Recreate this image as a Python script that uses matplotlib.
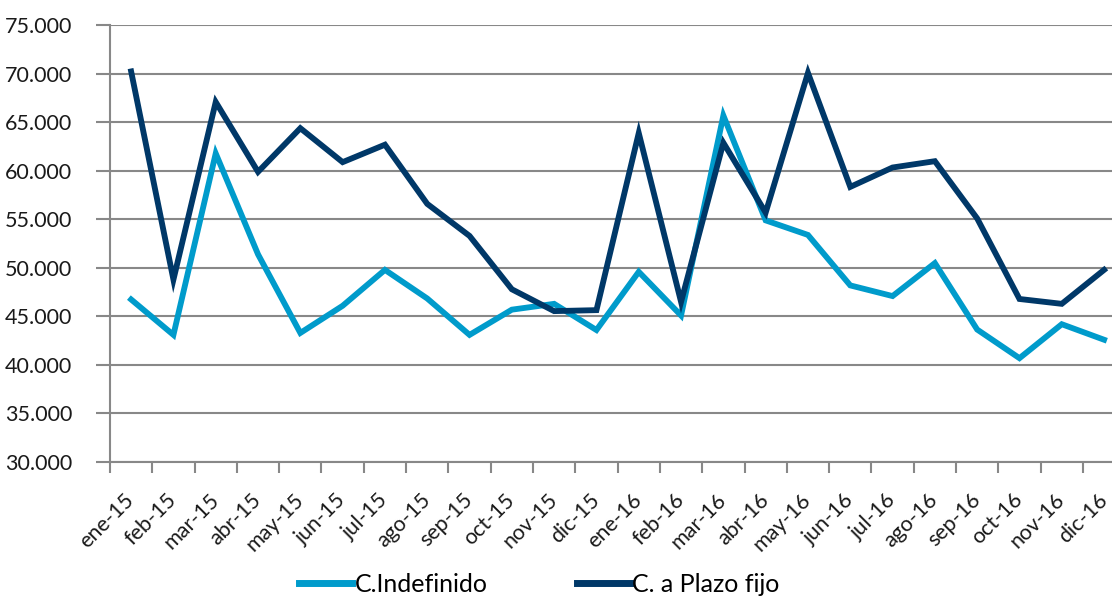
import matplotlib
matplotlib.use("Agg")
import matplotlib.pyplot as plt
import numpy as np

plt.rcParams['font.family'] = ['Lato', 'DejaVu Sans']

months = ["ene-15", "feb-15", "mar-15", "abr-15", "may-15", "jun-15",
          "jul-15", "ago-15", "sep-15", "oct-15", "nov-15", "dic-15",
          "ene-16", "feb-16", "mar-16", "abr-16", "may-16", "jun-16",
          "jul-16", "ago-16", "sep-16", "oct-16", "nov-16", "dic-16"]

indefinido = [46750, 43100, 61800, 51400, 43300, 46100,
              49800, 46850, 43100, 45700, 46300, 43600,
              49600, 45100, 65700, 54900, 53400, 48200,
              47100, 50500, 43650, 40700, 44200, 42600]

plazo_fijo = [70250, 48800, 67100, 59900, 64400, 60900,
              62700, 56600, 53300, 47800, 45550, 45650,
              63900, 46500, 62900, 55700, 70100, 58350,
              60350, 61000, 55100, 46800, 46300, 49800]

yticks = np.arange(30000, 75001, 5000)
ytick_labels = [f"{v // 1000}.000" for v in yticks]


def main():
    fig = plt.figure(figsize=(11.12, 5.99), dpi=100)
    ax = fig.add_axes([0.0989, 0.2287, 0.913, 0.729])

    x = np.arange(len(months))
    ax.plot(x, indefinido, color="#009BCB", lw=4.2, solid_joinstyle="miter",
            label="C.Indefinido", zorder=3)
    ax.plot(x, plazo_fijo, color="#003868", lw=4.2, solid_joinstyle="miter",
            label="C. a Plazo fijo", zorder=4)

    ax.set_xlim(-0.5, len(months) - 0.5)
    ax.set_ylim(30000, 75000)

    # gridlines
    ax.set_yticks(yticks)
    ax.set_yticklabels(ytick_labels, fontsize=15.5, color="#1a1a1a")
    ax.yaxis.grid(True, color="#888888", lw=1.5)
    ax.set_axisbelow(True)
    ax.tick_params(axis="y", length=10, width=1.5, color="#888888", pad=17)

    # category ticks between months, labels at month centers
    ax.set_xticks(np.arange(-0.5, len(months), 1.0))
    ax.set_xticklabels([])
    ax.set_xticks(x, minor=True)
    ax.set_xticklabels(months, minor=True, rotation=45, ha="right",
                       va="center", rotation_mode="anchor",
                       fontsize=15.5, color="#1a1a1a")
    ax.tick_params(axis="x", which="major", length=8, width=1.5, color="#888888")
    ax.tick_params(axis="x", which="minor", length=0, pad=25)

    for side in ["top", "right"]:
        ax.spines[side].set_visible(False)
    for side in ["left", "bottom"]:
        ax.spines[side].set_color("#888888")
        ax.spines[side].set_linewidth(1.5)

    leg = fig.legend(loc="center left", bbox_to_anchor=(0.249, 0.024), ncol=2,
                     frameon=False, fontsize=18, handlelength=2.1,
                     handletextpad=0.1, columnspacing=3.6)
    for h in leg.get_lines():
        h.set_linewidth(5)

    fig.savefig("out.png", dpi=100)


if __name__ == "__main__":
    main()
